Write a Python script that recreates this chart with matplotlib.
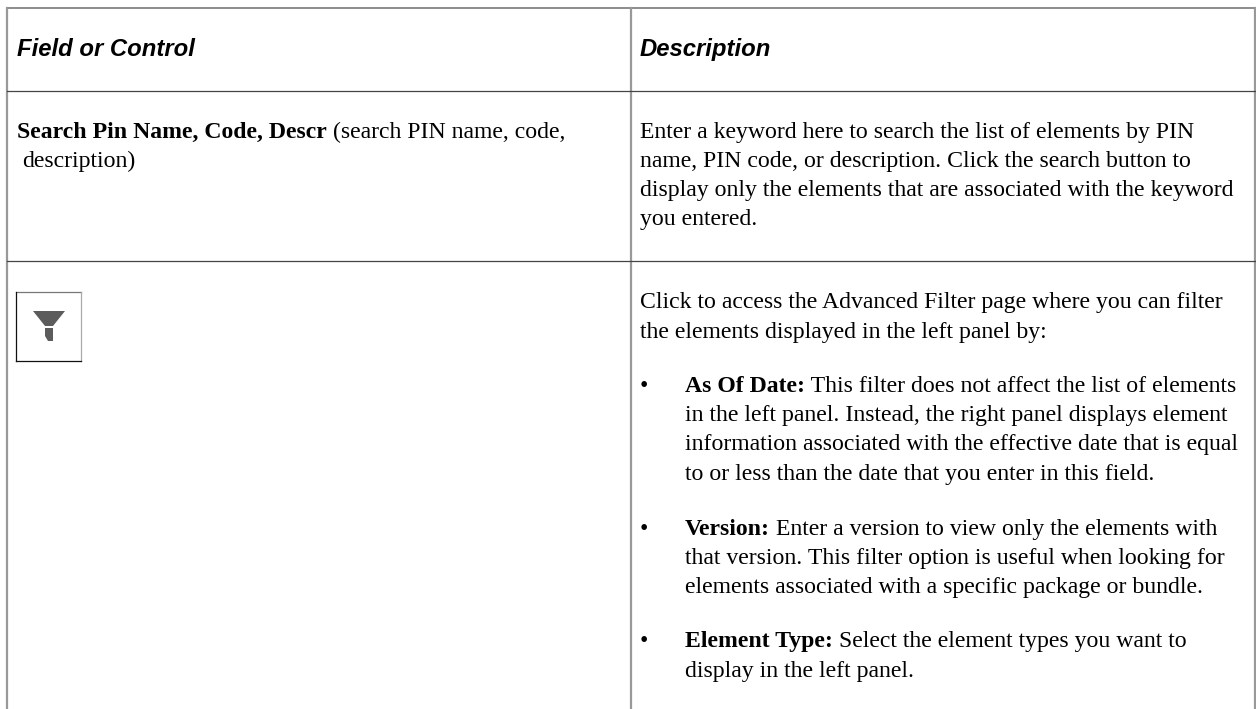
import matplotlib

matplotlib.use("Agg")
import matplotlib.pyplot as plt
from matplotlib.patches import Polygon

W, H = 1256, 709

SERIF = "Liberation Serif"
SANS = "Liberation Sans"
TEXT_SIZE = 17.15
HEAD_SIZE = 17.2

HEADERS = ["Field or Control", "Description"]

# (x, baseline y, [(text, bold), ...])
LEFT_LINES = [
    (17, 138, [("Search Pin Name, Code, Descr", True), (" (search PIN name, code,", False)]),
    (22, 167, [("description)", False)]),
]
RIGHT_LINES = [
    (640, 138, [("Enter a keyword here to search the list of elements by PIN", False)]),
    (640, 167, [("name, PIN code, or description. Click the search button to", False)]),
    (640, 196, [("display only the elements that are associated with the keyword", False)]),
    (640, 225, [("you entered.", False)]),
    (640, 308, [("Click to access the Advanced Filter page where you can filter", False)]),
    (640, 338, [("the elements displayed in the left panel by:", False)]),
    (685, 392, [("As Of Date:", True), (" This filter does not affect the list of elements", False)]),
    (685, 421, [("in the left panel. Instead, the right panel displays element", False)]),
    (685, 450, [("information associated with the effective date that is equal", False)]),
    (685, 480, [("to or less than the date that you enter in this field.", False)]),
    (685, 535, [("Version:", True), (" Enter a version to view only the elements with", False)]),
    (685, 564, [("that version. This filter option is useful when looking for", False)]),
    (685, 593, [("elements associated with a specific package or bundle.", False)]),
    (685, 647, [("Element Type:", True), (" Select the element types you want to", False)]),
    (685, 677, [("display in the left panel.", False)]),
]
BULLET_ROWS = [392, 535, 647]


def draw_runs(fig, ax, x, y, runs):
    renderer = fig.canvas.get_renderer()
    for text, bold in runs:
        weight = "bold" if bold else "normal"
        t = ax.text(x, y, text, family=SERIF, fontsize=TEXT_SIZE, color="#000000",
                    fontweight=weight, va="baseline", ha="left")
        x += t.get_window_extent(renderer).width


fig = plt.figure(figsize=(W / 100, H / 100), dpi=100)
ax = fig.add_axes([0, 0, 1, 1])
ax.set_xlim(0, W)
ax.set_ylim(H, 0)
ax.axis("off")

# table rules
ax.plot([7, 1255], [8, 8], color="#8c8c8c", lw=1.4)
ax.plot([7, 7], [8, H], color="#999999", lw=1.6)
ax.plot([631, 631], [8, H], color="#999999", lw=1.6)
ax.plot([1255, 1255], [8, H], color="#999999", lw=1.6)
ax.plot([7, 1255], [91, 91], color="#444444", lw=0.9)
ax.plot([7, 1255], [261, 261], color="#444444", lw=0.9)

# headers
ax.text(17, 56, HEADERS[0], family=SANS, fontsize=HEAD_SIZE, fontweight="bold",
        fontstyle="italic", va="baseline")
ax.text(640, 56, HEADERS[1], family=SANS, fontsize=HEAD_SIZE, fontweight="bold",
        fontstyle="italic", va="baseline")

for x, y, runs in LEFT_LINES + RIGHT_LINES:
    draw_runs(fig, ax, x, y, runs)

for y in BULLET_ROWS:
    ax.text(640, y, "•", family=SERIF, fontsize=TEXT_SIZE, va="baseline")

# filter icon: dark left and bottom edges, light top and right
ax.plot([16, 81], [292, 292], color="#777777", lw=0.9)
ax.plot([81, 81], [292, 361], color="#aaaaaa", lw=0.9)
ax.plot([16, 16], [292, 361], color="#111111", lw=0.9)
ax.plot([16, 81], [361, 361], color="#111111", lw=0.9)
ax.add_patch(Polygon([(33, 311), (65, 311), (53, 326), (45, 326)], color="#5c5c5c", lw=0))
ax.add_patch(Polygon([(45, 328), (53, 328), (53, 341), (48, 341), (45, 336)], color="#5c5c5c", lw=0))

fig.savefig("out.png", dpi=100)
